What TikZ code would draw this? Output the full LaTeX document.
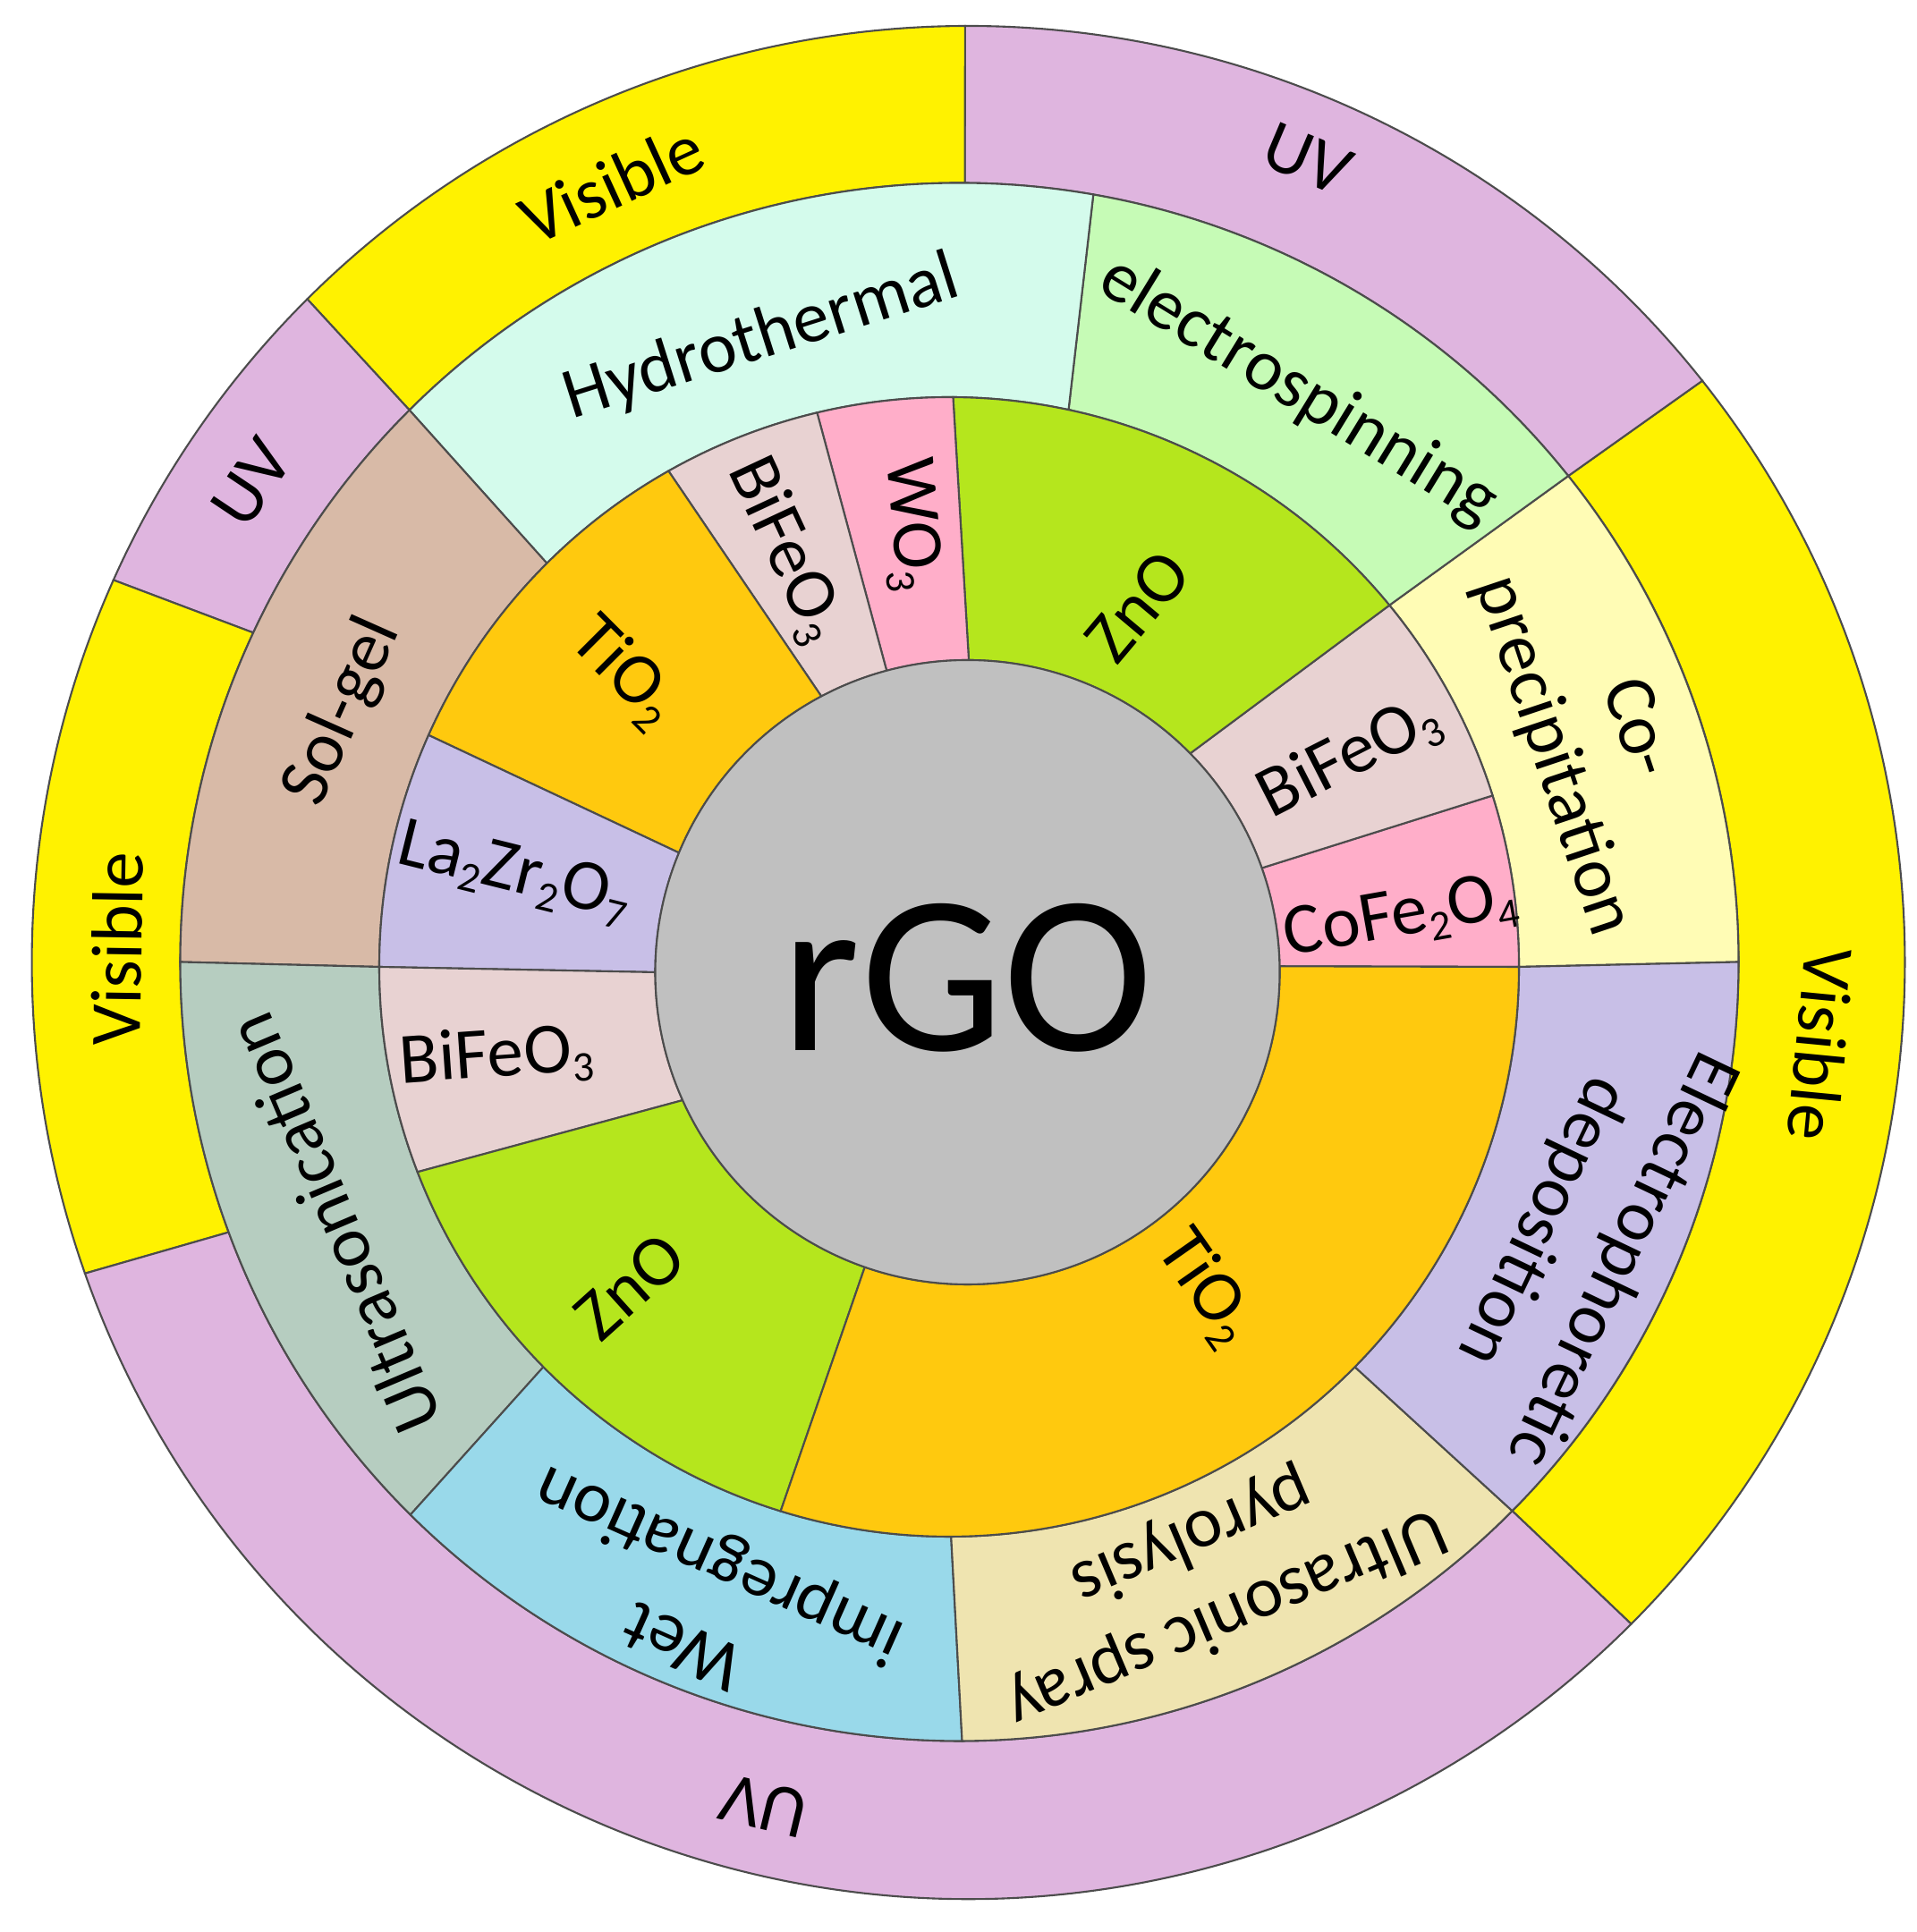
\documentclass[tikz,border=0pt]{standalone}
\usepackage{fontspec}
\setmainfont{Carlito}
\usepackage{tikz}
\usetikzlibrary{calc}

\definecolor{rgogray}{HTML}{C0C0C0}
\definecolor{uvpink}{HTML}{DFB5DF}
\definecolor{visyellow}{HTML}{FFF200}
\definecolor{tiogold}{HTML}{FFC90E}
\definecolor{znolime}{HTML}{B5E61D}
\definecolor{bfopink}{HTML}{E8D2D2}
\definecolor{rosepink}{HTML}{FFAEC9}
\definecolor{lavender}{HTML}{C8BFE7}
\definecolor{coprecyellow}{HTML}{FFFCB5}
\definecolor{espingreen}{HTML}{C6FBB6}
\definecolor{hydromint}{HTML}{D4FBEC}
\definecolor{solgeltan}{HTML}{D8BAA7}
\definecolor{usonicgreen}{HTML}{B6CDC0}
\definecolor{wetblue}{HTML}{99D9EA}
\definecolor{spraybeige}{HTML}{EFE4B0}

\newcommand{\low}[1]{\raisebox{-3.5pt}{\fontsize{13.5}{14}\selectfont #1}}
\newcommand{\ringsector}[9]{%
  \filldraw[seg, fill=#9] ($(#1)+(#5:#2)$) -- ($(#3)+(#6:#4)$)
    arc[start angle=#6, end angle=#8, radius=#4]
    -- ($(#1)+(#7:#2)$) arc[start angle=#7, end angle=#5, radius=#2] -- cycle;}

\begin{document}
\begin{tikzpicture}[
    seg/.style={draw=black!70, line width=0.6pt},
    lbl/.style={font=\fontsize{23}{28}\selectfont, align=center, inner sep=0pt},
    big/.style={font=\fontsize{72}{80}\selectfont, inner sep=0pt}]
        \useasboundingbox (0,0) rectangle (21.42,21.60);
        \coordinate (O1) at (10.825,10.84);
        \coordinate (O2) at (10.725,10.845);
        \coordinate (O3) at (10.61,10.79);
        \coordinate (O4) at (10.815,10.73);

        \ringsector{O2}{8.71}{O1}{10.47}{-44.8}{-44.95}{38.6}{38.4}{visyellow}
        \ringsector{O2}{8.71}{O1}{10.47}{38.6}{38.4}{89.6}{90.2}{uvpink}
        \ringsector{O2}{8.71}{O1}{10.47}{89.6}{90.2}{134.9}{134.9}{visyellow}
        \ringsector{O2}{8.71}{O1}{10.47}{134.9}{134.9}{155.0}{155.9}{uvpink}
        \ringsector{O2}{8.71}{O1}{10.47}{155.0}{155.9}{200.3}{199.4}{visyellow}
        \ringsector{O2}{8.71}{O1}{10.47}{200.3}{199.4}{315.2}{315.05}{uvpink}

        \ringsector{O3}{6.37}{O2}{8.71}{0}{0}{39.4}{38.6}{coprecyellow}
        \ringsector{O3}{6.37}{O2}{8.71}{39.4}{38.6}{77.9}{80.1}{espingreen}
        \ringsector{O3}{6.37}{O2}{8.71}{77.9}{80.1}{134.9}{134.9}{hydromint}
        \ringsector{O3}{6.37}{O2}{8.71}{134.9}{134.9}{180}{180}{solgeltan}
        \ringsector{O3}{6.37}{O2}{8.71}{180}{180}{224.6}{225.2}{usonicgreen}
        \ringsector{O3}{6.37}{O2}{8.71}{224.6}{225.2}{270.2}{270.2}{wetblue}
        \ringsector{O3}{6.37}{O2}{8.71}{270.2}{270.2}{315.4}{315.2}{spraybeige}
        \ringsector{O3}{6.37}{O2}{8.71}{315.4}{315.2}{360}{360}{lavender}

        \ringsector{O4}{3.49}{O3}{6.37}{1.1}{0}{19.5}{17.5}{rosepink}
        \ringsector{O4}{3.49}{O3}{6.37}{19.5}{17.5}{44.5}{39.4}{bfopink}
        \ringsector{O4}{3.49}{O3}{6.37}{44.5}{39.4}{89.75}{89.6}{znolime}
        \ringsector{O4}{3.49}{O3}{6.37}{89.75}{89.6}{105}{103.4}{rosepink}
        \ringsector{O4}{3.49}{O3}{6.37}{105}{103.4}{117.9}{119.5}{bfopink}
        \ringsector{O4}{3.49}{O3}{6.37}{117.9}{119.5}{157.5}{156}{tiogold}
        \ringsector{O4}{3.49}{O3}{6.37}{157.5}{156}{180}{180}{lavender}
        \ringsector{O4}{3.49}{O3}{6.37}{180}{180}{204.2}{201.1}{bfopink}
        \ringsector{O4}{3.49}{O3}{6.37}{204.2}{201.1}{250.8}{252.8}{znolime}
        \ringsector{O4}{3.49}{O3}{6.37}{250.8}{252.8}{361.1}{360}{tiogold}

        \filldraw[seg, fill=rgogray] (O4) circle[radius=3.49];
        \node [big] (rgo) at ($(O4)+(0,-0.06)$) {rGO};

        \node [lbl, rotate=24.6] (vistop) at ($(O1)+(114.6:9.58)$) {Visible};
        \node [lbl, rotate=-22.9] (uvtop) at ($(O1)+(67.1:9.75)$) {UV};
        \node [lbl, rotate=-95.5] (visright) at ($(O1)+(-5.5:9.58)$) {Visible};
        \node [lbl, rotate=166.4] (uvbottom) at ($(O1)+(256.4:9.70)$) {UV};
        \node [lbl, rotate=89.1] (visleft) at ($(O1)+(179.1:9.52)$) {Visible};
        \node [lbl, rotate=56.2] (uvleft) at ($(O1)+(146.2:9.64)$) {UV};

        \node [lbl, rotate=17.6] (hydro) at ($(O2)+(107.6:7.31)$) {Hydrothermal};
        \node [lbl, rotate=-31.5] (espin) at ($(O2)+(59.3:7.42)$) {electrospinning};
        \node [lbl, rotate=-71.5] (coprec) at ($(O2)+(19.1:7.50)$) {Co-\\precipitation};
        \node [lbl, rotate=-115.5] (ephor) at ($(O2)+(-24.1:7.62)$) {Electrophoretic\\deposition};
        \node [lbl, rotate=-157] (spray) at ($(O2)+(-67.9:7.42)$) {Ultrasonic spray\\pyrolysis};
        \node [lbl, rotate=156] (wet) at ($(O2)+(248.1:7.70)$) {Wet\\impregnation};
        \node [lbl, rotate=113] (usonic) at ($(O2)+(202.7:7.59)$) {Ultrasonication};
        \node [lbl, rotate=66] (solgel) at ($(O2)+(157.9:7.44)$) {Sol-gel};

        \node [lbl, rotate=50] (zno1) at ($(O3)+(62.4:4.55)$) {ZnO};
        \node [lbl, rotate=-85] (wo3) at ($(O3)+(95:4.96)$) {WO\low{3}};
        \node [lbl, rotate=-65] (bfo1) at ($(O3)+(111.4:5.01)$) {BiFeO\low{3}};
        \node [lbl, rotate=-45] (tio1) at ($(O3)+(137.8:4.91)$) {TiO\low{2}};
        \node [lbl, rotate=-14] (lzo) at ($(O3)+(167.9:4.97)$) {La\low{2}Zr\low{2}O\low{7}};
        \node [lbl, rotate=4] (bfo2) at ($(O3)+(191.3:5.16)$) {BiFeO\low{3}};
        \node [lbl, rotate=42] (zno2) at ($(O3)+(225:5.05)$) {ZnO};
        \node [lbl, rotate=-55] (tio2) at ($(O3)+(-51.3:4.59)$) {TiO\low{2}};
        \node [lbl, rotate=10] (cfo) at ($(O3)+(6.2:5.08)$) {CoFe\low{2}O\low{4}};
        \node [lbl, rotate=27] (bfo3) at ($(O3)+(27.6:5.05)$) {BiFeO\low{3}};
    \end{tikzpicture}
\end{document}
